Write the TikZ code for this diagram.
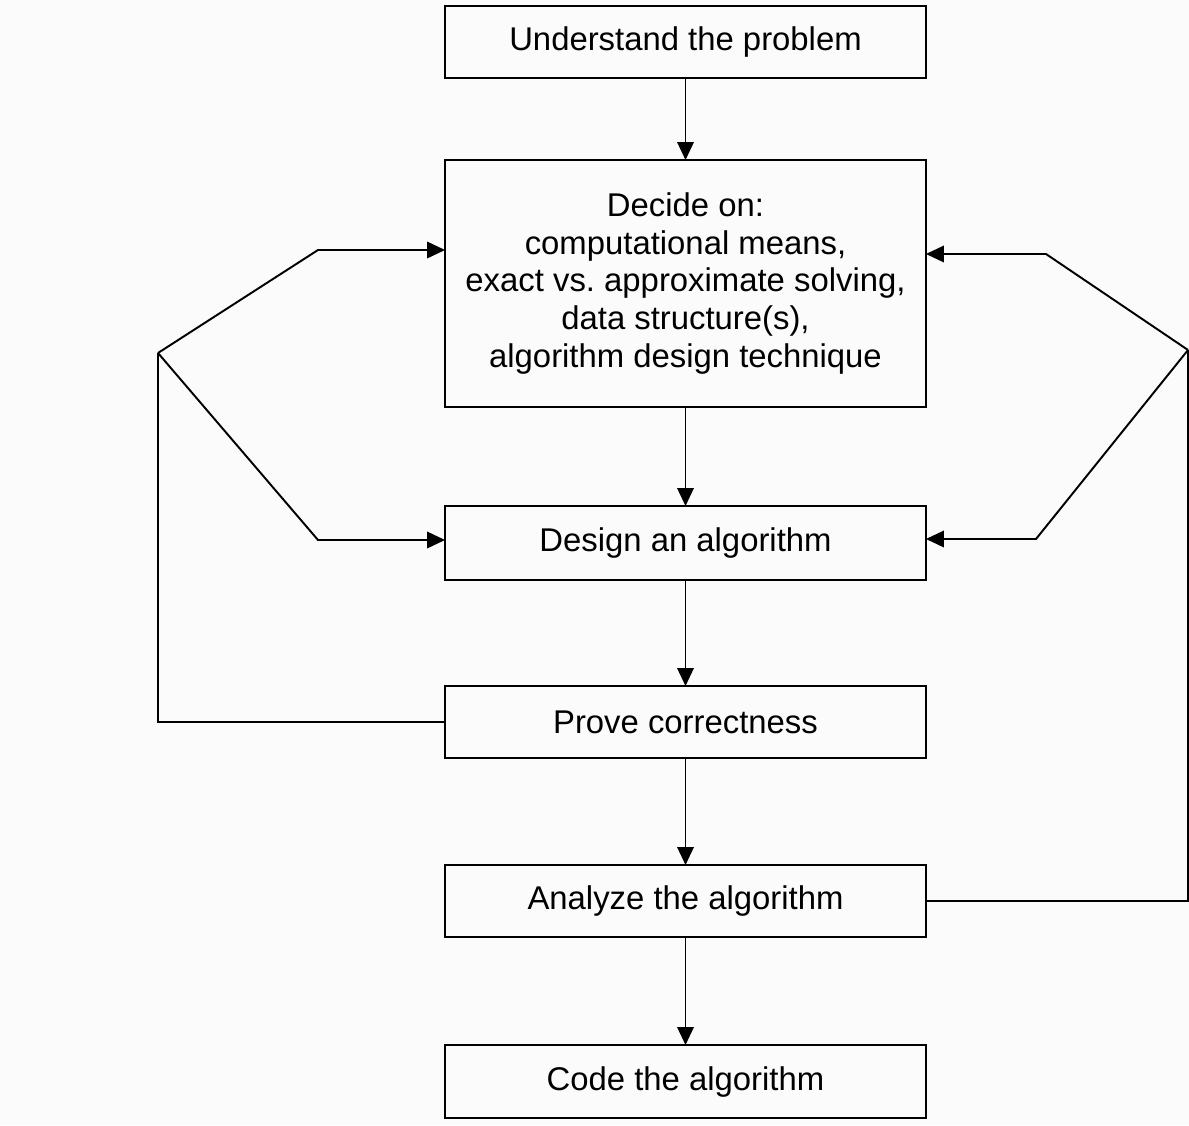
\documentclass[tikz,border=0pt]{standalone}
\usepackage{fontspec}
\setmainfont{Liberation Sans}
\usetikzlibrary{arrows.meta}
\frenchspacing
\begin{document}
\begin{tikzpicture}[x=0.02cm,y=-0.02cm, line width=1.1pt,
  box/.style={draw, rectangle, minimum width=9.62cm, inner sep=0pt, outer sep=0pt, align=center,
    font=\fontsize{18.7}{21.4}\selectfont},
  arr/.style={-{Triangle[length=0.36cm,width=0.33cm]}}]
\fill[black!1.5] (0,0) rectangle (1189,1125);
\useasboundingbox (0,0) rectangle (1189,1125);
\node[box, minimum height=1.44cm] (b1) at (685.5,42) {Understand the problem};
\node[box, minimum height=4.94cm] (b2) at (685.5,283.5) {Decide on:\\computational means,\\exact vs.\ approximate solving,\\data structure(s),\\algorithm design technique};
\node[box, minimum height=1.48cm] (b3) at (685.5,543) {Design an algorithm};
\node[box, minimum height=1.44cm] (b4) at (685.5,722) {Prove correctness};
\node[box, minimum height=1.44cm] (b5) at (685.5,901) {Analyze the algorithm};
\node[box, minimum height=1.46cm] (b6) at (685.5,1081.5) {Code the algorithm};
\draw[arr] (b1) -- (b2);
\draw[arr] (b2) -- (b3);
\draw[arr] (b3) -- (b4);
\draw[arr] (b4) -- (b5);
\draw[arr] (b5) -- (b6);
\coordinate (L) at (158,353);
\coordinate (L1) at (318,250);
\coordinate (L2) at (318,540);
\draw (b4.west) -| (L);
\draw[arr] (L) -- (L1) -- (b2.west |- L1);
\draw[arr] (L) -- (L2) -- (b3.west |- L2);
\coordinate (R) at (1188,350);
\coordinate (R1) at (1046,254);
\coordinate (R2) at (1036,539);
\draw (b5.east) -| (R);
\draw[arr] (R) -- (R1) -- (b2.east |- R1);
\draw[arr] (R) -- (R2) -- (b3.east |- R2);
\end{tikzpicture}
\end{document}
